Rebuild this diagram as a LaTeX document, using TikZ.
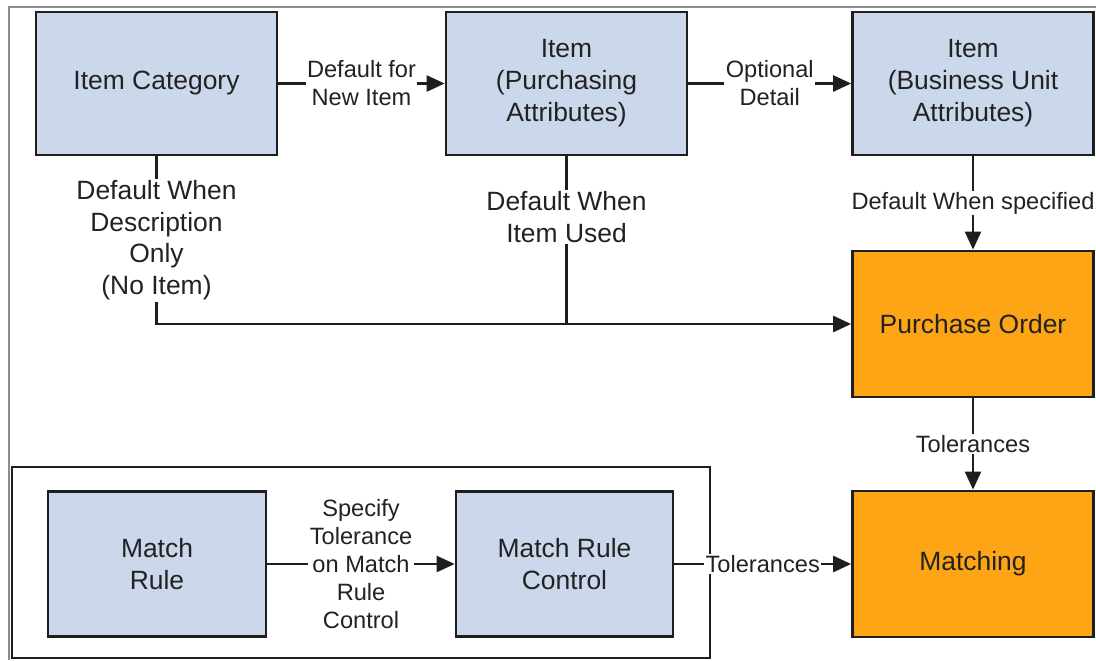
\documentclass[tikz,border=0pt]{standalone}
\usepackage{fontspec}
\setmainfont{Liberation Sans}
\usetikzlibrary{arrows.meta,positioning,calc}
\definecolor{Steel}{HTML}{CBD7EA}
\definecolor{Amber}{HTML}{FDA514}
\definecolor{Edge}{HTML}{1E1E1E}
\definecolor{Frame}{HTML}{8C8C8C}
\definecolor{Text}{HTML}{222222}

\begin{document}
\begin{tikzpicture}[x=0.025cm,y=-0.025cm,every node/.style={text=Text},box/.style={draw=Edge,line width=2pt,fill=Steel,minimum width=6.02cm,minimum height=3.57cm,align=center,inner sep=0pt,font=\fontsize{18.8}{22.7}\selectfont},hotbox/.style={box,fill=Amber,minimum height=3.65cm},lbl/.style={fill=white,inner sep=1pt,align=center,font=\fontsize{16.8}{19.9}\selectfont},biglbl/.style={lbl,font=\fontsize{18.8}{22.7}\selectfont},arrowstyle/.style={-{Triangle[length=0.45cm,width=0.4cm]},line width=1.7pt,draw=Edge}]
\useasboundingbox (0,0) rectangle (1096,660);
\fill[white] (0,0) rectangle (1096,660);
\draw[Frame,line width=1pt] (1096,7) -- (9,7) -- (9,660);
% match rule group
\node[draw=Edge,line width=1.7pt,minimum width=17.45cm,minimum height=4.78cm] (group) at (361,562.5) {};
\node[box] (cat) at (156.5,83.5) {Item Category};
\node[box] (purch) at (566.5,83.5) {Item\\(Purchasing\\Attributes)};
\node[box] (buattr) at (973,83.5) {Item\\(Business Unit\\Attributes)};
\node[hotbox] (po) at (973,324) {Purchase Order};
\node[hotbox] (match) at (973,564) {Matching};
\node[box,minimum width=5.45cm,minimum height=3.62cm] (rule) at (157,564) {Match\\Rule};
\node[box,minimum width=5.42cm,minimum height=3.62cm] (rulectl) at (564.5,564) {Match Rule\\Control};
% connectors
\draw[arrowstyle] (cat) -- node[lbl]{Default for\\New Item} (purch);
\draw[arrowstyle] (purch) -- node[lbl]{Optional\\Detail} (buattr);
\draw[arrowstyle] (buattr) -- node[lbl]{Default When specified} (po);
\draw[arrowstyle] (cat.south) |- node[biglbl,pos=0.25]{Default When\\Description\\Only\\(No Item)} (po.west);
\coordinate (join) at (purch.south |- po.west);
\draw[line width=1.7pt,draw=Edge] (purch.south) -- node[biglbl,pos=0.36]{Default When\\Item Used} (join);
\draw[arrowstyle] (po) -- node[lbl]{Tolerances} (match);
\draw[arrowstyle] (rule) -- node[lbl]{Specify\\Tolerance\\on Match\\Rule\\Control} (rulectl);
\draw[arrowstyle] (rulectl) -- node[lbl]{Tolerances} (match);
\end{tikzpicture}
\end{document}
